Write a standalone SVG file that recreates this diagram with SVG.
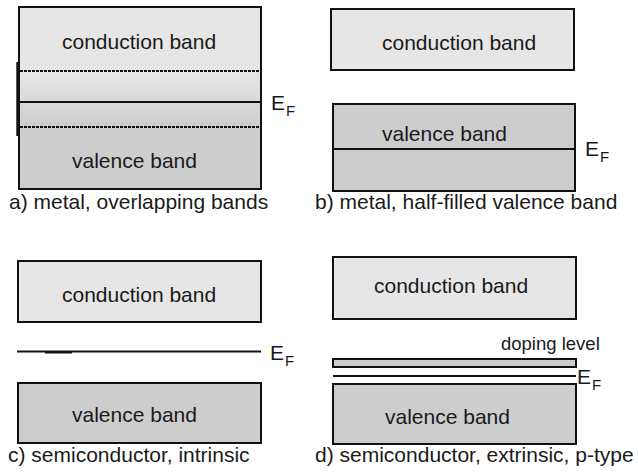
<svg xmlns="http://www.w3.org/2000/svg" width="638" height="473" viewBox="0 0 638 473">
<defs>
<linearGradient id="overlap" x1="0" y1="71" x2="0" y2="127" gradientUnits="userSpaceOnUse">
<stop offset="0" stop-color="#e7e7e7"/>
<stop offset="1" stop-color="#cdcdcd"/>
</linearGradient>
</defs>
<style>
.cb{fill:#e6e6e6;stroke:#111;stroke-width:2}
.vb{fill:#cdcdcd;stroke:#111;stroke-width:2}
.ln{stroke:#111;stroke-width:2;fill:none}
.dot{stroke:#111;stroke-width:1.8;stroke-dasharray:3 1;fill:none}
text{font-family:"Liberation Sans",Arial,sans-serif;fill:#1a1a1a;font-size:21px}
.sub{font-size:15px}
.small{font-size:18.5px}
</style>
<rect width="638" height="473" fill="#fff"/>
<g id="panel-a">
<rect x="19" y="7" width="242" height="64" fill="#e6e6e6"/>
<rect x="19" y="71" width="242" height="56" fill="url(#overlap)"/>
<rect x="19" y="127" width="242" height="62" fill="#cdcdcd"/>
<rect x="19" y="7" width="242" height="182" fill="none" stroke="#111" stroke-width="2"/>
<line class="dot" x1="20" y1="71" x2="260" y2="71"/>
<line class="ln" x1="19" y1="102" x2="261" y2="102"/>
<line class="dot" x1="20" y1="127" x2="260" y2="127"/>
<line class="ln" x1="17.3" y1="62" x2="17.3" y2="136" stroke-width="1.3"/>
<text x="62" y="49">conduction band</text>
<text x="72" y="168">valence band</text>
<text x="271" y="110">E<tspan class="sub" dx="1" dy="6">F</tspan></text>
<text x="9" y="209">a) metal, overlapping bands</text>
</g>
<g id="panel-b">
<rect class="cb" x="331" y="9" width="243" height="61"/>
<rect class="vb" x="333" y="104" width="242" height="87"/>
<line class="ln" x1="332" y1="149" x2="575" y2="149"/>
<text x="382" y="50">conduction band</text>
<text x="382" y="141">valence band</text>
<text x="585" y="156">E<tspan class="sub" dx="1" dy="6">F</tspan></text>
<text x="315" y="209">b) metal, half-filled valence band</text>
</g>
<g id="panel-c">
<rect class="cb" x="18" y="261" width="243" height="61"/>
<line class="ln" x1="17" y1="351.5" x2="261" y2="351.5"/>
<line class="ln" x1="45" y1="352.5" x2="72" y2="352.5"/>
<rect class="vb" x="18" y="383" width="243" height="60"/>
<text x="62" y="302">conduction band</text>
<text x="72" y="422">valence band</text>
<text x="270" y="360">E<tspan class="sub" dx="1" dy="6">F</tspan></text>
<text x="8" y="462">c) semiconductor, intrinsic</text>
</g>
<g id="panel-d">
<rect class="cb" x="333" y="257" width="243" height="62"/>
<rect class="vb" x="333" y="359" width="243" height="8" stroke-width="1.8"/>
<line class="ln" x1="333" y1="376" x2="576" y2="376"/>
<rect class="vb" x="333" y="384" width="243" height="60"/>
<text x="374" y="293">conduction band</text>
<text class="small" x="501" y="350">doping level</text>
<text x="385" y="424">valence band</text>
<text x="577" y="384">E<tspan class="sub" dx="1" dy="6">F</tspan></text>
<text x="315" y="462">d) semiconductor, extrinsic, p-type</text>
</g>
</svg>
